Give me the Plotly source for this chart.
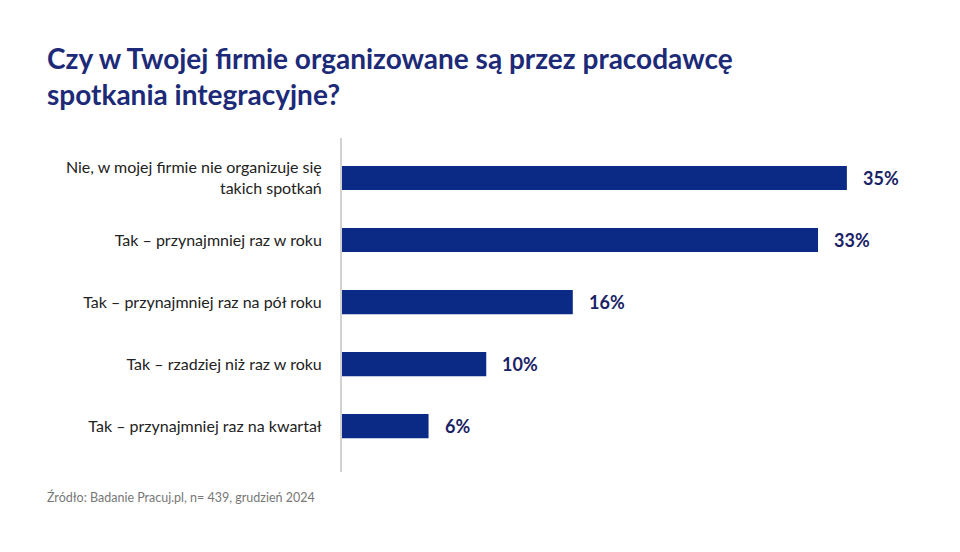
import plotly.graph_objects as go

# survey answers, top to bottom as in the chart
answers = [
    'Nie, w mojej firmie nie organizuje się<br>takich spotkań',
    'Tak – przynajmniej raz w roku',
    'Tak – przynajmniej raz na pół roku',
    'Tak – rzadziej niż raz w roku',
    'Tak – przynajmniej raz na kwartał',
]
shares = [35, 33, 16, 10, 6]
share_labels = ['35%', '33%', '16%', '10%', '6%']

title = 'Czy w Twojej firmie organizowane są przez pracodawcę<br>spotkania integracyjne?'
source = 'Źródło: Badanie Pracuj.pl, n= 439, grudzień 2024'

FONT = 'Lato'
NAVY = '#0b2a86'

fig = go.Figure(go.Bar(
    x=shares, y=answers, orientation='h',
    marker=dict(color=NAVY, line=dict(width=0)),
    width=0.39,
    hoverinfo='skip',
))

# value labels sit a bit further from the bar end than textposition allows
for val, ans, lab in zip(shares, answers, share_labels):
    fig.add_annotation(x=val, y=ans, text=lab, xanchor='left', yanchor='middle',
                       xshift=14, showarrow=False,
                       font=dict(family=FONT, size=18, color='#1a2266', weight='bold'))

# the page body adds 8px margin, so everything is placed 8px up/left
fig.update_layout(
    width=960, height=552,
    paper_bgcolor='white', plot_bgcolor='white',
    margin={'l': 334, 'r': 49, 't': 130, 'b': 88},
    showlegend=False,
    title=dict(text=title, x=39 / 960, xref='container', xanchor='left',
               y=1 - 61 / 552, yref='container', yanchor='top',
               font=dict(family=FONT, size=28, color='#1c2a78', weight='bold')),
)

fig.update_xaxes(range=[0, 40], visible=False)
fig.update_yaxes(
    range=[4.74, -0.645], categoryorder='array', categoryarray=answers,
    showgrid=False, showline=True, linecolor='#d2d2d2', linewidth=2,
    ticks='', ticklabelstandoff=15,
    tickfont=dict(family=FONT, size=16, color='#222222'),
)

fig.add_annotation(text=source, xref='paper', yref='paper', x=(37 - 334) / 577, y=-25 / 334,
                   xanchor='left', yanchor='middle', showarrow=False,
                   font=dict(family=FONT, size=12.5, color='#777777'))

fig.write_html('out.html')
